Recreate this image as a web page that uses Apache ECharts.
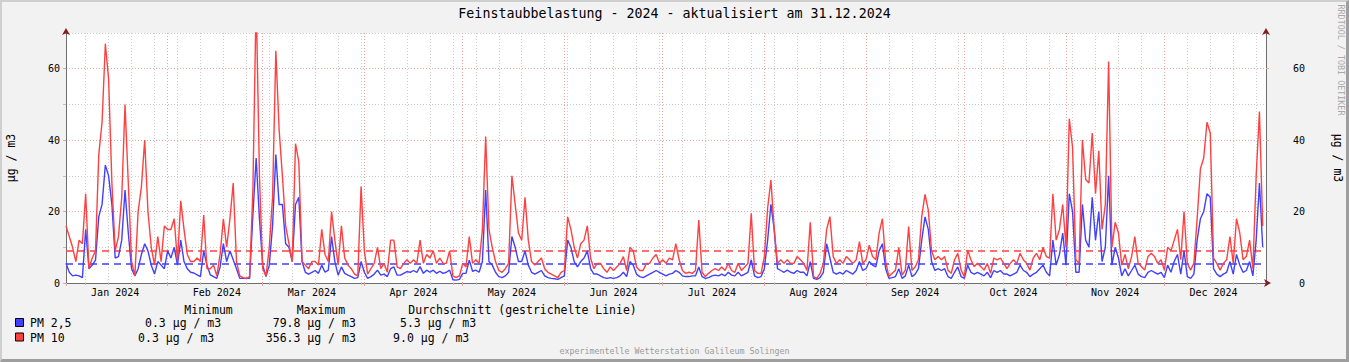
<!DOCTYPE html>
<html><head><meta charset="utf-8">
<script src="https://cdn.jsdelivr.net/npm/echarts@6/dist/echarts.min.js"></script>
<style>
html,body{margin:0;padding:0;background:#f2f2f2;}
#wrap{position:relative;width:1349px;height:362px;overflow:hidden;}
#chart{position:absolute;left:0;top:0;width:1349px;height:362px;}
#frame{position:absolute;left:0;top:0;width:1349px;height:362px;box-sizing:border-box;border-top:2px solid #cfcfcf;border-left:2px solid #cfcfcf;border-bottom:3px solid #9e9e9e;border-right:3px solid #9e9e9e;pointer-events:none;}
</style></head><body>
<div id="wrap"><div id="chart"></div><div id="frame"></div></div>
<script>
const titleText = 'Feinstaubbelastung - 2024 - aktualisiert am 31.12.2024';
const footerText = 'experimentelle Wetterstation Galileum Solingen';
const watermarkText = 'RRDTOOL / TOBI OETIKER';
const unitText = 'µg / m3';
const startYear = 2024;
const dayCount = 367;
const monthLabels = ['Jan 2024','Feb 2024','Mar 2024','Apr 2024','May 2024','Jun 2024','Jul 2024','Aug 2024','Sep 2024','Oct 2024','Nov 2024','Dec 2024'];
const yMax = 70, yMajorStep = 20, yMinorStep = 10;

const seriesNames = ['PM 2,5', 'PM 10'];
const seriesColors = ['#4040ff', '#ff4040'];
const legendHeaders = ['Minimum', 'Maximum', 'Durchschnitt (gestrichelte Linie)'];
const minTexts = ['0.3 µg / m3', '0.3 µg / m3'];
const maxTexts = ['79.8 µg / m3', '356.3 µg / m3'];
const avgValues = [5.3, 9.0];

const pm25 = [
5.5,3,2,2.2,2,1.5,15,4,5,6.4,
18.6,22,33,30,22,7,7.4,12,26,14,
4,2,4,8,11,9,5,2.5,6,5,
4,9,7,10,5,12,6,4,3,2.8,
2.3,1.8,9,5,2.3,1.8,1.3,4.5,11,6,
9,6.5,4,1.3,1.3,1.3,1.3,19,35,18,
5,1.8,5,16,36,22,22,11,10,6,
22,24,6,3,2.5,3,3.5,2.7,5,3,
3.6,13,6,2.2,4.5,2.7,2.2,1.8,1.3,1.5,
6,3,1.3,1.8,2.5,3.6,2.2,2.5,1.8,4,
4.5,2.2,2.2,2.7,3.2,3,3.5,3,4.6,2.7,
3.6,3,3.6,2.7,3.3,2.7,3,3.6,0.9,0.8,
1,2.7,2.7,6.4,3.3,3.6,3,6,26,6,
5,3,1.8,1.5,2,3,13,10,6,6,
9,5,3,2.5,3,3.5,2,1.5,1.3,1.2,
1,1.5,2,12,10,6,4.5,6,7,9,
4,2.5,2.5,2,1.5,1.3,1.5,1.3,1.5,2,
3,1.8,6,5,2.5,1.8,1.5,2,2.5,3,
3.5,3,2.5,2,2.5,2.7,3.5,3,2,1.8,
1.8,2,2,4.5,1.8,1.3,1.5,2,2.2,2,
2.5,2,3,2.2,2,3,2,2.5,3,6.5,
2,1.5,1.8,4,12,22,15,4,3.5,3,
3.6,3,2.7,3.5,3,3,2,6,1.3,1,
1.5,3,11,7,3,2.5,3,2.5,3.5,3,
2.5,3.5,6,3.5,4,6,5,4.5,9,11,
4,1.3,1.5,1.8,4,1.3,2,5,1.8,2.5,
4,12,18.5,15,6,3.5,4,3.5,4,1.8,
1.3,3,4.5,1.8,1.3,5,3,2.5,3,2.5,
2,3,1.5,3.5,3,3.5,2.5,2.5,2,2.5,
3,5,3.5,3,1.8,2.5,3,4,5,3,
2,12,5,8,14,5,25,20,3,3,
22,12,10,24,12,20,6,10,30,5,
10,7,2,4,2,3.5,5,2.5,1.8,1.5,
3,3.5,3,2.5,3,1.5,5,3,6,8,
2.5,9,1.8,1.3,2.5,12,18,20,25,24,
4,2.5,1.8,2.5,3,6,2.5,8,5,3,
3.5,6,2,12,28,10
];

const pm10 = [
16,13,10,6,12,11,25,4,7,9,
36,45,67,57,28,9,13,24,50,28,
6,2,20,27,40,20,10,5,13,6,
16,15,15,18,6,23,15,8,6,6,
7,6,19,4,4,5,2,8,18,10,
18,28,6,2,1.5,1.3,1.8,26,80,30,
4,2,10,24,65,43,30,16,11,6,
39,34,6,5,4,6,6,5,15,8,
6,20,12,5,16,7,5,4,2.5,2,
27,9,2.5,4,5.5,10,4,5.5,3,12,
12,4.5,4,5.5,6.5,5.5,6.5,5.5,12,5.5,
8,7,9,5.5,7,5.5,5.5,9,2,1.5,
2,5.5,4.5,13,5.5,6.5,5.5,15,41,15,
10,6,3.5,3,4,5.5,30,22,14,12,
24,12,6,5,6,7,4,3,2.5,2,
1.5,3,3.5,18.5,15,10,7,11,12,16,
7,4,5.5,5.5,4,3,4.5,3.5,4.5,5.5,
7.4,3.5,10,9,4.5,3.5,3.5,5.5,5.5,7,
8,5.5,6.5,5.5,7,6.5,11,6.5,3.5,2.7,
3,2.7,3.5,17.6,3,1.8,2.7,3.5,4,3.5,
4.5,3.5,5.5,3.5,3,5.5,3.5,4.5,5.5,19.5,
3.5,2.7,2.7,7.4,21,28.8,15,5.5,6.5,5.5,
6.5,5.5,5.5,7.4,6.5,5.5,3.5,17,1.8,1.3,
2.7,5.5,15,18.6,7.4,5.5,6.5,5.5,7.4,6.5,
5.5,6.5,11.6,5.5,6.5,10.6,7.4,6.5,14,18,
6,1.8,2.7,3.6,10,2.2,3.6,15.8,3.6,4.5,
6.5,18.6,24.8,20.4,9,6.5,7.4,6.5,7.4,3.6,
2.7,6.5,8.3,3.6,1.8,9.2,6.5,4.6,5.5,4.6,
3.6,5.5,2.7,7,6.5,7,5.5,4,5.5,6.5,
5.5,8.3,6.5,5.5,3.6,7,8.3,6.5,10,7.4,
7,25,12,15,22,10,46,38,6.5,5.5,
40,29,28,42,25,37,15,22,62,10,
17,14,5,8,4,7.4,13,5.5,4.6,3.6,
7.4,8.3,7.4,5.5,6.5,3.6,10,9,12,15,
6.5,20,5.5,3.6,5.5,18,32,35,45,42,
7,5.5,3.6,5.5,6.5,13,5.5,18,14,6.5,
7.4,12,4,30,48,16
];

// ---- build categories (dates) ----
const categories = [];
const t0 = Date.UTC(startYear, 0, 1);
for (let i = 0; i < dayCount; i++) {
  categories.push(new Date(t0 + i * 86400000).toISOString().slice(0, 10));
}
const toDate = v => new Date(v + 'T00:00:00Z');
const isSunday = (i, v) => toDate(v).getUTCDay() === 0;
const isMonthStart = (i, v) => toDate(v).getUTCDate() === 1;
const isMidMonth = (i, v) => toDate(v).getUTCDate() === 16;

const FONT = '"DejaVu Sans Mono", monospace';
const minorGrid = '#cdcdcd';
const majorGrid = '#e6a3a3';
const axisCol = '#6e6e6e';
const arrowCol = '#801f1f';
const dots = [1, 2];

// ---- legend graphic ----
const cw = 6.92;
const legendFont = '11.5px ' + FONT;
const graphic = [];
const headerX = [184.3, 296.7, 408.3];
legendHeaders.forEach((h, k) => graphic.push({type: 'text', x: headerX[k], y: 309.5,
  style: {text: h, font: legendFont, fill: '#000', verticalAlign: 'middle'}}));
const rowY = [323, 337.5];
const colGap = [73.5, 201.2, 328.5];
seriesNames.forEach((n, r) => {
  graphic.push({type: 'rect', shape: {x: 15.5, y: rowY[r] - 4.5, width: 8, height: 8},
    style: {fill: seriesColors[r], stroke: '#000', lineWidth: 1}});
  graphic.push({type: 'text', x: 30, y: rowY[r], style: {text: n, font: legendFont, fill: '#000', verticalAlign: 'middle'}});
  const base = 30 + n.length * cw;
  const cells = [minTexts[r], maxTexts[r], avgValues[r].toFixed(1) + ' µg / m3'];
  cells.forEach((c, k) => graphic.push({type: 'text', x: base + colGap[k], y: rowY[r],
    style: {text: c, font: legendFont, fill: '#000', verticalAlign: 'middle'}}));
});
graphic.push({type: 'text', x: 674.5, y: 351, style: {text: footerText, font: '8.3px ' + FONT, fill: '#9a9a9a', align: 'center', verticalAlign: 'middle'}});
graphic.push({type: 'text', x: 10.5, y: 158, rotation: Math.PI / 2, style: {text: unitText, font: legendFont, fill: '#000', align: 'center', verticalAlign: 'middle'}});
graphic.push({type: 'text', x: 1338, y: 158, rotation: -Math.PI / 2, style: {text: unitText, font: legendFont, fill: '#000', align: 'center', verticalAlign: 'middle'}});
graphic.push({type: 'text', x: 1340.5, y: 60, rotation: -Math.PI / 2, style: {text: watermarkText, font: '8.4px ' + FONT, fill: '#a8a8a8', align: 'center', verticalAlign: 'middle'}});

const axisLabelStyle = {fontFamily: FONT, fontSize: 10, color: '#000'};

const option = {
  animation: false,
  backgroundColor: '#f2f2f2',
  color: seriesColors,
  title: {text: titleText, left: 'center', top: 7, padding: 0,
    textStyle: {fontFamily: FONT, fontSize: 13.3, fontWeight: 'normal', color: '#000'}},
  grid: {left: 66, right: 83, top: 33, bottom: 79, show: true, backgroundColor: '#ffffff', borderWidth: 0},
  xAxis: [
    {type: 'category', data: categories, boundaryGap: false, position: 'bottom',
      axisLine: {show: true, lineStyle: {color: arrowCol, width: 1}, symbol: ['none', 'arrow'], symbolSize: [6, 7], symbolOffset: [0, 5]},
      axisTick: {show: false}, axisLabel: {show: false}, splitLine: {show: false}},
    {type: 'category', data: categories, boundaryGap: false, position: 'bottom',
      axisLine: {show: true, lineStyle: {color: axisCol, width: 1}},
      axisTick: {show: true, length: 2, interval: isSunday, lineStyle: {color: '#bdbdbd'}},
      axisLabel: {show: false},
      splitLine: {show: true, interval: isSunday, lineStyle: {color: minorGrid, type: dots, width: 1}}},
    {type: 'category', data: categories, boundaryGap: false, position: 'bottom',
      axisLine: {show: false},
      axisTick: {show: true, length: 3, interval: isMonthStart, lineStyle: {color: majorGrid}},
      axisLabel: Object.assign({interval: isMidMonth, margin: 4,
        formatter: v => monthLabels[toDate(v).getUTCMonth()]}, axisLabelStyle),
      splitLine: {show: true, interval: isMonthStart, lineStyle: {color: majorGrid, type: dots, width: 1}}}
  ],
  yAxis: [
    {type: 'value', min: 0, max: yMax, interval: yMinorStep, position: 'left',
      axisLine: {show: true, lineStyle: {color: arrowCol, width: 1}, symbol: ['none', 'arrow'], symbolSize: [6, 7], symbolOffset: [0, 5]},
      axisTick: {show: true, length: 3, lineStyle: {color: '#bdbdbd'}}, axisLabel: {show: false},
      splitLine: {show: true, lineStyle: {color: minorGrid, type: dots, width: 1}}},
    {type: 'value', min: 0, max: yMax, interval: yMajorStep, position: 'left',
      axisLine: {show: true, lineStyle: {color: axisCol, width: 1}},
      axisTick: {show: true, length: 3, lineStyle: {color: majorGrid}},
      axisLabel: Object.assign({margin: 6, showMaxLabel: false}, axisLabelStyle),
      splitLine: {show: true, showMaxLine: false, lineStyle: {color: majorGrid, type: dots, width: 1}}},
    {type: 'value', min: 0, max: yMax, interval: yMajorStep, position: 'right',
      axisLine: {show: true, lineStyle: {color: arrowCol, width: 1}, symbol: ['none', 'arrow'], symbolSize: [6, 7], symbolOffset: [0, 5]},
      axisTick: {show: true, length: 3, lineStyle: {color: majorGrid}},
      axisLabel: Object.assign({margin: 39, align: 'right', showMaxLabel: false}, axisLabelStyle),
      splitLine: {show: false}},
    {type: 'value', min: 0, max: yMax, interval: yMajorStep, position: 'right',
      axisLine: {show: true, lineStyle: {color: axisCol, width: 1}},
      axisTick: {show: false}, axisLabel: {show: false}, splitLine: {show: false}}
  ],
  series: seriesNames.map((n, k) => ({
    name: n, type: 'line', xAxisIndex: 1, yAxisIndex: 0,
    data: k === 0 ? pm25 : pm10,
    color: seriesColors[k],
    showSymbol: false, symbol: 'none', clip: true, z: 3 + k,
    lineStyle: {color: seriesColors[k], width: 1.4},
    itemStyle: {color: seriesColors[k]},
    markLine: {silent: true, symbol: ['none', 'none'], label: {show: false}, z: 2,
      lineStyle: {color: seriesColors[k], type: [7, 5], width: 1.5},
      data: [{yAxis: avgValues[k]}]}
  })),
  graphic: graphic
};

const chart = echarts.init(document.getElementById('chart'), null, {renderer: 'svg', width: 1349, height: 362});
chart.setOption(option);
</script>
</body></html>
